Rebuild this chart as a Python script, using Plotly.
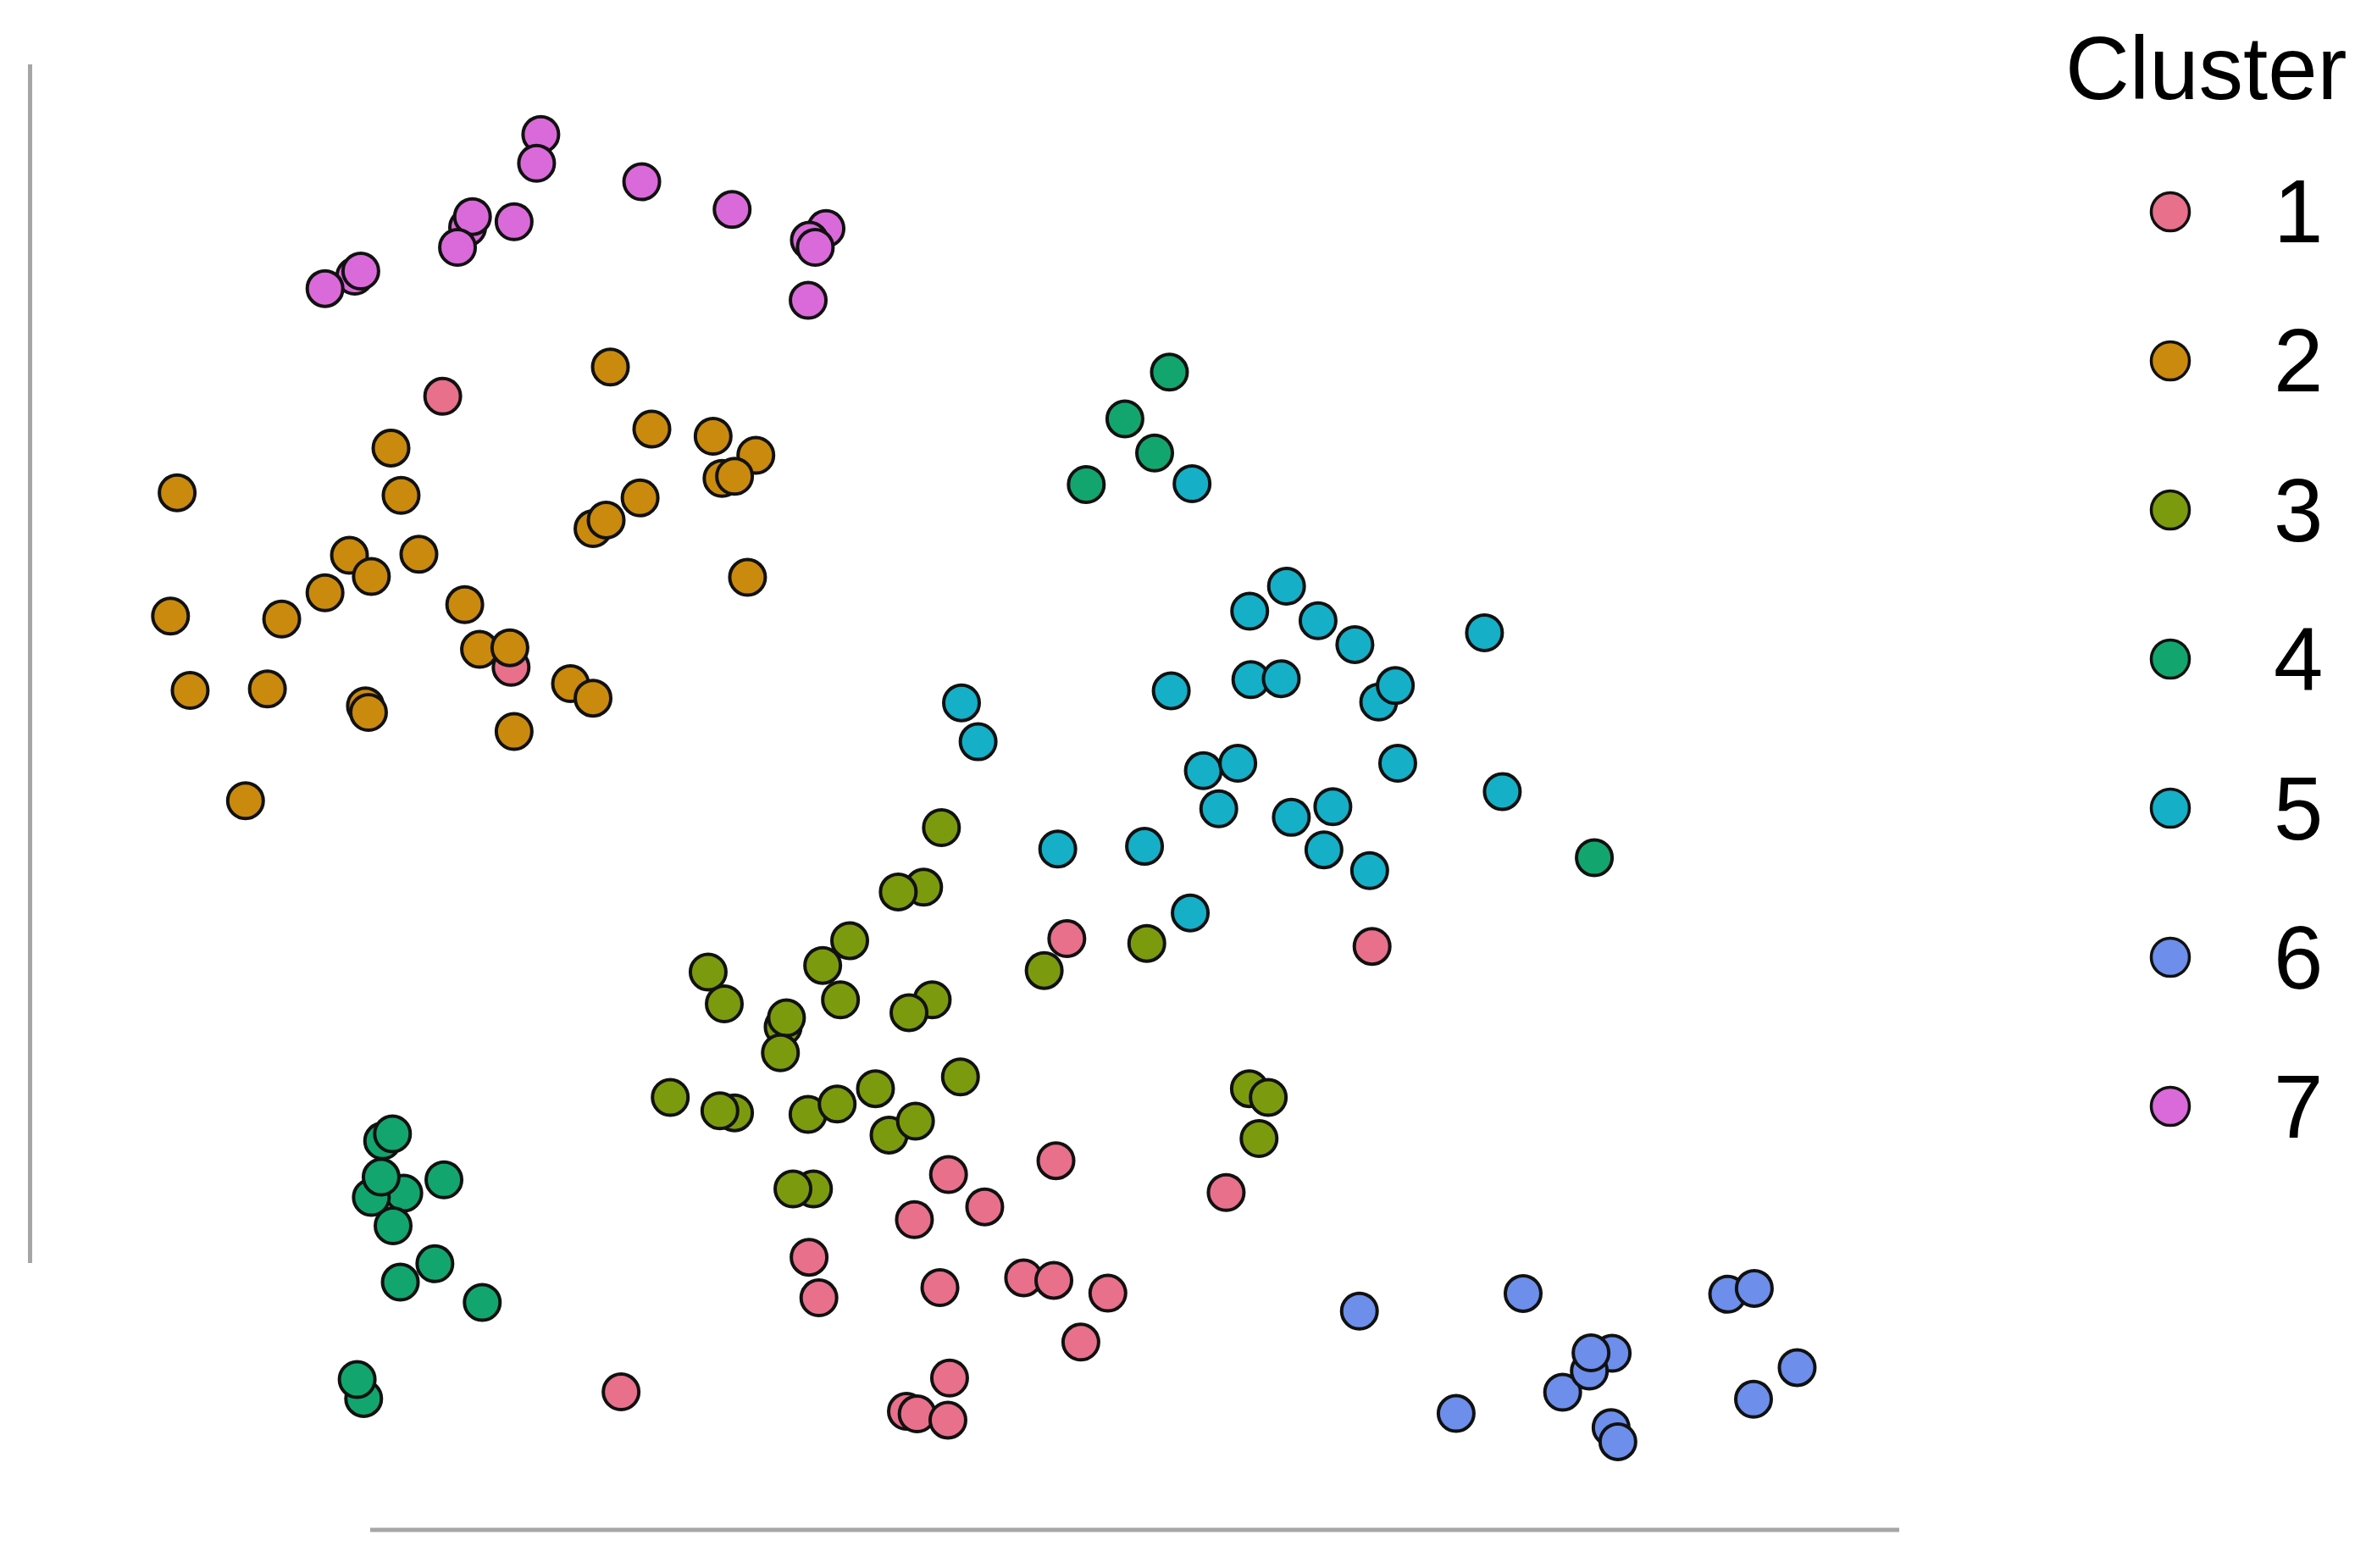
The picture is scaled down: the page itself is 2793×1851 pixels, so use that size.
import plotly.graph_objects as go

# ---- data (arbitrary embedding units) ----
clusters = ["1", "2", "3", "4", "5", "6", "7"]
colors = ["#E8708B", "#CA8A0D", "#7C9A0E", "#12A66E", "#15AFC8", "#6D8EEA", "#DA6AD9"]

x1 = [293.4, 338.7, 707.0, 909.3, 699.8, 628.6, 652.6, 606.0, 812.6, 536.2, 542.7,
      622.9, 678.4, 698.4, 734.2, 716.3, 411.6, 629.3, 600.7, 607.8, 628.2]
y1 = [776.4, 596.8, 417.0, 411.9, 269.9, 260.7, 239.3, 230.8, 248.8, 205.9, 179.0,
      185.8, 192.3, 190.6, 182.1, 149.7, 116.7, 125.9, 103.8, 102.1, 98.0]

x2 = [404.5, 432.0, 472.6, 500.9, 478.5, 486.8, 259.1, 117.4, 265.8, 424.2, 393.0,
      401.7, 231.6, 277.6, 246.1, 215.4, 495.4, 113.0, 186.7, 308.0, 317.8, 337.9,
      378.1, 393.0, 126.0, 177.2, 242.2, 244.2, 340.7, 162.7]
y2 = [795.8, 754.7, 749.9, 737.3, 722.0, 723.4, 742.1, 712.5, 710.8, 709.1, 688.7,
      694.4, 671.0, 671.7, 657.0, 646.2, 656.4, 630.8, 628.8, 638.3, 608.7, 609.8,
      586.0, 576.4, 581.5, 582.5, 571.3, 566.9, 554.3, 508.4]

x3 = [623.9, 612.1, 595.3, 563.1, 545.2, 469.3, 480.0, 557.0, 617.8, 602.4, 519.0,
      521.2, 517.2, 444.2, 486.8, 477.1, 535.5, 554.8, 580.2, 636.5, 589.2, 606.7,
      539.1, 525.5, 692.0, 760.0, 828.0, 840.5, 834.4]
y3 = [490.6, 451.1, 448.0, 415.7, 399.3, 394.9, 373.8, 376.5, 376.5, 368.0, 358.5,
      364.6, 341.4, 311.8, 301.6, 303.0, 300.6, 307.4, 317.6, 325.4, 286.9, 296.1,
      251.2, 251.2, 395.9, 413.9, 317.6, 311.8, 284.6]

x4 = [775.0, 745.5, 765.2, 719.9, 1056.6, 253.6, 260.1, 267.6, 246.1, 260.5, 252.6,
      294.2, 288.2, 265.3, 319.6, 241.0, 236.7]
y4 = [792.4, 761.4, 738.8, 717.9, 470.7, 283.0, 287.7, 248.4, 245.6, 226.8, 259.0,
      257.2, 201.6, 189.4, 176.0, 112.3, 124.9]

x5 = [790.0, 852.6, 828.2, 873.5, 897.9, 983.8, 829.0, 849.1, 776.2, 913.7, 924.7,
      637.2, 648.2, 797.5, 820.3, 926.3, 807.7, 883.3, 855.8, 995.6, 877.4, 907.7,
      701.0, 758.5, 788.8]
y5 = [718.5, 650.6, 634.0, 627.7, 611.9, 619.7, 588.7, 589.3, 581.3, 573.8, 584.7,
      573.3, 547.5, 528.3, 533.2, 533.2, 503.1, 504.5, 497.4, 514.5, 475.9, 462.1,
      476.4, 478.2, 434.1]

x6 = [900.9, 1009.4, 1145.0, 1162.6, 1191.0, 1162.1, 965.0, 1035.6, 1068.4, 1053.3,
      1054.4, 1067.7, 1072.2]
y6 = [170.2, 181.9, 181.4, 185.3, 132.8, 111.8, 102.4, 116.5, 142.3, 130.5,
      142.6, 93.1, 83.7]

x7 = [358.4, 355.6, 425.3, 485.2, 309.9, 313.1, 303.2, 340.7, 547.4, 536.4, 540.3,
      535.6, 235.1, 239.1, 215.4]
y7 = [949.9, 930.8, 918.6, 900.2, 888.3, 895.5, 875.1, 892.1, 887.6, 879.8, 875.1,
      840.0, 856.0, 859.4, 847.8]

xs = [x1, x2, x3, x4, x5, x6, x7]
ys = [y1, y2, y3, y4, y5, y6, y7]

# ---- figure geometry ----
W, H = 2793, 1851
PAGE_OFF = 8          # default body margin of the html page (px)
FONT = "Liberation Sans, Arial, sans-serif"
AXIS_GREY = "#a6a6a6"
S = W / 1568.0        # pixels per data unit
d_off = PAGE_OFF / S

fig = go.Figure()
for name, col, xv, yv in zip(clusters, colors, xs, ys):
    fig.add_trace(go.Scatter(
        x=xv, y=yv, mode="markers", name=name, showlegend=False,
        marker=dict(size=42, color=col, line=dict(color="#111111", width=4)),
    ))

shapes = []


def px(xp):
    return (xp - PAGE_OFF) / W


def py(yp):
    return 1 - (yp - PAGE_OFF) / H


# range-frame style axis lines
shapes.append(dict(type="line", xref="paper", yref="paper",
                   x0=px(35.5), x1=px(35.5), y0=py(76), y1=py(1491),
                   line=dict(color=AXIS_GREY, width=5)))
shapes.append(dict(type="line", xref="paper", yref="paper",
                   x0=px(437), x1=px(2242), y0=py(1806), y1=py(1806),
                   line=dict(color=AXIS_GREY, width=5)))

# manual legend (large symbols, as in the reference)
annotations = [dict(text="Cluster", xref="paper", yref="paper",
                    x=px(2436), y=py(80.6), xanchor="left", yanchor="middle",
                    showarrow=False, font=dict(family=FONT, size=105, color="black"))]
leg_top, leg_step = 250, 176
for i, (name, col) in enumerate(zip(clusters, colors)):
    cy = leg_top + i * leg_step
    shapes.append(dict(type="circle", xref="paper", yref="paper",
                       xsizemode="pixel", ysizemode="pixel",
                       xanchor=px(2562), yanchor=py(cy),
                       x0=-22.5, x1=22.5, y0=-22.5, y1=22.5,
                       fillcolor=col, line=dict(color="#111111", width=3.5)))
    annotations.append(dict(text=name, xref="paper", yref="paper",
                            x=px(2682), y=py(cy), xanchor="left", yanchor="middle",
                            showarrow=False,
                            font=dict(family=FONT, size=105, color="black")))

fig.update_layout(
    width=W, height=H,
    margin=dict(l=0, r=0, t=0, b=0),
    paper_bgcolor="white", plot_bgcolor="white",
    xaxis=dict(range=[d_off, 1568 + d_off], visible=False, showgrid=False, zeroline=False),
    yaxis=dict(range=[-d_off, 1039 - d_off], visible=False, showgrid=False, zeroline=False),
    shapes=shapes, annotations=annotations,
    showlegend=False,
)

fig.write_html("out.html")
